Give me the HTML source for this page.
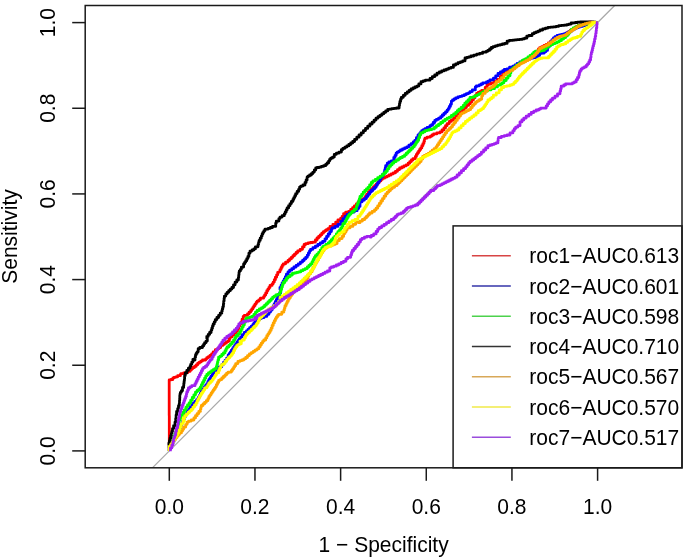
<!DOCTYPE html>
<html><head><meta charset="utf-8"><style>
html,body{margin:0;padding:0;background:#fff;}
body{width:685px;height:560px;overflow:hidden;font-family:"Liberation Sans",sans-serif;}
svg{display:block;will-change:transform;}
</style></head><body>
<svg width="685" height="560" viewBox="0 0 685 560" font-family="Liberation Sans, sans-serif" font-size="21">
<rect width="685" height="560" fill="#fff"/>
<defs><clipPath id="pc"><rect x="85.2" y="5.5" width="596.8" height="462.3"/></clipPath></defs>
<g clip-path="url(#pc)"><line x1="152.40" y1="467.80" x2="614.70" y2="5.50" stroke="#a8a8a8" stroke-width="1.2"/>
<path d="M169.3,450.9 L169.3,448.4 L169.3,448.4 L169.3,445.9 L169.3,445.9 L169.3,443.3 L169.3,443.3 L169.3,440.8 L169.3,440.8 L169.3,438.3 L169.3,438.3 L169.3,435.8 L169.3,435.8 L169.3,433.3 L169.3,433.3 L169.3,430.8 L169.3,430.8 L169.3,428.2 L169.3,428.2 L169.3,425.7 L169.3,425.7 L169.3,423.2 L169.3,423.2 L169.3,420.7 L169.3,420.7 L169.3,418.2 L169.3,418.2 L169.3,415.6 L169.2,415.6 L169.2,413.1 L169.2,413.1 L169.2,410.6 L169.2,410.6 L169.2,408.1 L169.2,408.1 L169.2,405.6 L169.2,405.6 L169.2,403.1 L169.2,403.1 L169.2,400.5 L169.2,400.5 L169.2,398.0 L169.2,398.0 L169.2,395.5 L169.2,395.5 L169.2,393.0 L169.2,393.0 L169.2,390.5 L169.2,390.5 L169.2,388.0 L169.2,388.0 L169.2,385.4 L169.2,385.4 L169.2,382.9 L169.2,382.9 L169.2,380.4 L169.2,380.4 L169.2,379.9 L171.0,379.9 L171.0,379.5 L172.9,379.5 L172.9,377.9 L173.9,377.9 L173.9,377.3 L175.8,377.3 L175.8,376.8 L177.7,376.8 L177.7,375.7 L180.4,375.7 L180.4,374.4 L180.9,374.4 L180.9,373.6 L183.6,373.6 L183.6,373.0 L185.7,373.0 L185.7,372.5 L187.9,372.5 L187.9,371.4 L190.0,371.4 L190.0,370.0 L191.4,370.0 L191.4,368.6 L192.9,368.6 L192.9,367.5 L194.5,367.5 L194.5,366.4 L196.1,366.4 L196.1,364.8 L197.7,364.8 L197.7,363.2 L199.3,363.2 L199.3,362.1 L200.9,362.1 L200.9,361.1 L202.5,361.1 L202.5,360.0 L205.7,360.0 L205.7,358.8 L206.8,358.8 L206.8,357.7 L208.4,357.7 L208.4,356.6 L210.0,356.6 L210.0,355.3 L211.6,355.3 L211.6,353.9 L213.2,353.9 L213.2,351.8 L215.4,351.8 L215.4,349.6 L217.5,349.6 L217.5,348.6 L219.1,348.6 L219.1,347.5 L220.7,347.5 L220.7,345.4 L222.9,345.4 L222.9,344.3 L224.5,344.3 L224.5,343.2 L226.1,343.2 L226.1,342.1 L227.7,342.1 L227.7,341.1 L229.3,341.1 L229.3,338.8 L230.0,338.8 L230.0,336.9 L231.9,336.9 L231.9,335.0 L233.8,335.0 L233.8,333.1 L235.7,333.1 L235.7,331.3 L237.5,331.3 L237.5,328.7 L238.8,328.7 L238.8,326.1 L240.0,326.1 L240.0,323.9 L241.1,323.9 L241.1,321.8 L242.1,321.8 L242.1,319.1 L243.2,319.1 L243.2,316.4 L244.3,316.4 L244.3,315.4 L247.5,315.4 L247.5,313.8 L249.1,313.8 L249.1,312.1 L250.7,312.1 L250.7,310.5 L251.8,310.5 L251.8,308.9 L252.9,308.9 L252.9,307.3 L253.9,307.3 L253.9,305.7 L255.0,305.7 L255.0,304.1 L256.1,304.1 L256.1,302.5 L257.1,302.5 L257.1,301.2 L258.8,301.2 L258.8,299.8 L260.4,299.8 L260.4,298.2 L263.6,298.2 L263.6,296.6 L264.6,296.6 L264.6,295.0 L265.7,295.0 L265.7,292.9 L266.8,292.9 L266.8,290.7 L267.9,290.7 L267.9,289.1 L268.9,289.1 L268.9,287.5 L270.0,287.5 L270.0,285.4 L272.1,285.4 L272.1,283.8 L273.2,283.8 L273.2,282.1 L274.3,282.1 L274.3,279.7 L275.4,279.7 L275.4,277.2 L276.6,277.2 L276.6,274.8 L277.7,274.8 L277.7,272.3 L278.9,272.3 L278.9,271.8 L280.0,271.8 L280.0,269.6 L281.1,269.6 L281.1,267.5 L282.1,267.5 L282.1,265.4 L283.2,265.4 L283.2,263.8 L285.6,263.8 L285.6,262.1 L288.0,262.1 L288.0,260.5 L289.6,260.5 L289.6,258.9 L291.3,258.9 L291.3,257.3 L292.9,257.3 L292.9,255.7 L294.5,255.7 L294.5,254.1 L296.1,254.1 L296.1,252.5 L297.7,252.5 L297.7,250.9 L300.1,250.9 L300.1,249.3 L302.5,249.3 L302.5,246.9 L304.1,246.9 L304.1,244.5 L305.7,244.5 L305.7,243.7 L308.1,243.7 L308.1,242.9 L310.5,242.9 L310.5,242.5 L312.9,242.5 L312.9,242.1 L315.4,242.1 L315.4,240.0 L317.0,240.0 L317.0,238.0 L318.6,238.0 L318.6,236.4 L320.2,236.4 L320.2,234.8 L321.8,234.8 L321.8,233.2 L323.4,233.2 L323.4,231.6 L325.0,231.6 L325.0,230.7 L326.4,230.7 L326.4,229.6 L328.0,229.6 L328.0,228.6 L329.6,228.6 L329.6,227.9 L330.0,227.9 L330.0,226.4 L332.9,226.4 L332.9,224.3 L335.7,224.3 L335.7,222.1 L337.9,222.1 L337.9,220.0 L340.7,220.0 L340.7,218.2 L342.1,218.2 L342.1,216.4 L343.6,216.4 L343.6,213.6 L345.7,213.6 L345.7,212.1 L348.6,212.1 L348.6,211.4 L350.7,211.4 L350.7,209.5 L352.6,209.5 L352.6,207.7 L354.4,207.7 L354.4,205.8 L356.3,205.8 L356.3,203.9 L358.1,203.9 L358.1,202.0 L360.0,202.0 L360.0,200.4 L362.5,200.4 L362.5,198.8 L365.0,198.8 L365.0,196.6 L366.5,196.6 L366.5,194.4 L368.1,194.4 L368.1,192.1 L369.6,192.1 L369.6,190.5 L371.3,190.5 L371.3,188.9 L372.9,188.9 L372.9,187.3 L374.5,187.3 L374.5,185.7 L376.1,185.7 L376.1,184.1 L377.7,184.1 L377.7,182.5 L379.3,182.5 L379.3,180.9 L380.9,180.9 L380.9,179.3 L382.5,179.3 L382.5,178.2 L384.6,178.2 L384.6,177.1 L386.8,177.1 L386.8,176.1 L388.9,176.1 L388.9,175.0 L391.1,175.0 L391.1,173.9 L393.2,173.9 L393.2,172.9 L395.4,172.9 L395.4,171.3 L397.5,171.3 L397.5,169.6 L399.6,169.6 L399.6,168.0 L401.8,168.0 L401.8,167.0 L403.9,167.0 L403.9,165.9 L406.1,165.9 L406.1,164.8 L408.2,164.8 L408.2,163.2 L409.8,163.2 L409.8,161.6 L411.4,161.6 L411.4,160.0 L413.0,160.0 L413.0,158.6 L415.4,158.6 L415.4,156.4 L416.4,156.4 L416.4,154.3 L417.5,154.3 L417.5,152.7 L418.6,152.7 L418.6,151.1 L419.6,151.1 L419.6,149.5 L420.7,149.5 L420.7,147.9 L421.8,147.9 L421.8,145.7 L422.9,145.7 L422.9,143.6 L423.9,143.6 L423.9,141.4 L424.5,141.4 L424.5,139.3 L425.0,139.3 L425.0,138.2 L427.1,138.2 L427.1,137.1 L430.4,137.1 L430.4,136.1 L432.0,136.1 L432.0,135.0 L433.6,135.0 L433.6,133.9 L436.8,133.9 L436.8,132.9 L440.0,132.9 L440.0,131.9 L442.0,131.9 L442.0,130.0 L443.9,130.0 L443.9,127.9 L445.5,127.9 L445.5,125.7 L447.1,125.7 L447.1,123.6 L449.3,123.6 L449.3,121.4 L451.4,121.4 L451.4,119.8 L453.6,119.8 L453.6,118.2 L455.7,118.2 L455.7,116.1 L457.9,116.1 L457.9,113.9 L460.0,113.9 L460.0,111.8 L462.1,111.8 L462.1,109.6 L464.3,109.6 L464.3,107.5 L466.4,107.5 L466.4,105.4 L468.6,105.4 L468.6,103.8 L470.2,103.8 L470.2,102.1 L471.8,102.1 L471.8,99.9 L473.4,99.9 L473.4,97.8 L475.0,97.8 L475.0,95.6 L476.6,95.6 L476.6,93.4 L478.2,93.4 L478.2,92.5 L479.9,92.5 L479.9,91.6 L481.7,91.6 L481.7,90.4 L485.2,90.4 L485.2,87.5 L486.9,87.5 L486.9,85.2 L488.1,85.2 L488.1,84.0 L491.0,84.0 L491.0,82.8 L494.5,82.8 L494.5,81.1 L497.4,81.1 L497.4,79.3 L500.4,79.3 L500.4,76.4 L502.7,76.4 L502.7,73.5 L505.0,73.5 L505.0,71.8 L507.4,71.8 L507.4,70.8 L509.9,70.8 L509.9,69.9 L512.4,69.9 L512.4,68.3 L514.6,68.3 L514.6,66.7 L516.7,66.7 L516.7,65.1 L518.9,65.1 L518.9,63.5 L521.0,63.5 L521.0,62.4 L523.1,62.4 L523.1,61.4 L525.3,61.4 L525.3,60.3 L527.4,60.3 L527.4,59.2 L529.6,59.2 L529.6,57.6 L531.7,57.6 L531.7,56.0 L533.9,56.0 L533.9,54.4 L535.5,54.4 L535.5,52.8 L537.1,52.8 L537.1,50.8 L538.4,50.8 L538.4,48.8 L539.7,48.8 L539.7,47.7 L541.8,47.7 L541.8,46.6 L544.0,46.6 L544.0,45.5 L546.1,45.5 L546.1,44.5 L548.3,44.5 L548.3,42.9 L550.4,42.9 L550.4,41.3 L552.5,41.3 L552.5,39.6 L554.7,39.6 L554.7,38.0 L556.8,38.0 L556.8,37.0 L559.0,37.0 L559.0,35.9 L561.1,35.9 L561.1,35.4 L563.3,35.4 L563.3,34.8 L565.4,34.8 L565.4,33.8 L567.0,33.8 L567.0,32.7 L568.6,32.7 L568.6,31.6 L570.2,31.6 L570.2,30.5 L571.8,30.5 L571.8,29.5 L573.4,29.5 L573.4,28.4 L575.0,28.4 L575.0,27.3 L576.6,27.3 L576.6,26.3 L578.3,26.3 L578.3,25.4 L580.4,25.4 L580.4,24.6 L582.5,24.6 L582.5,23.8 L584.7,23.8 L584.7,23.0 L586.8,23.0 L586.8,22.6 L589.0,22.6 L589.0,22.2 L591.1,22.2 L591.1,22.3 L593.3,22.3 L593.3,22.4 L595.4,22.4 L595.4,22.5 L597.6,22.5" stroke="#FF0000" stroke-width="2.8" fill="none" stroke-linejoin="round" stroke-linecap="butt"/><path d="M169.3,450.9 L169.3,448.8 L170.4,448.8 L170.4,446.6 L171.5,446.6 L171.5,444.4 L172.7,444.4 L172.7,442.3 L173.8,442.3 L173.8,440.1 L174.9,440.1 L174.9,438.0 L176.0,438.0 L176.0,436.0 L177.0,436.0 L177.0,434.0 L178.0,434.0 L178.0,432.0 L179.0,432.0 L179.0,430.0 L180.0,430.0 L180.0,427.7 L180.9,427.7 L180.9,425.4 L181.8,425.4 L181.8,423.0 L182.7,423.0 L182.7,420.7 L183.6,420.7 L183.6,418.7 L184.5,418.7 L184.5,416.8 L185.4,416.8 L185.4,414.1 L187.0,414.1 L187.0,411.4 L188.6,411.4 L188.6,409.3 L190.2,409.3 L190.2,407.1 L191.8,407.1 L191.8,405.0 L193.4,405.0 L193.4,402.9 L195.0,402.9 L195.0,401.3 L196.6,401.3 L196.6,399.6 L198.2,399.6 L198.2,397.5 L199.3,397.5 L199.3,395.4 L200.4,395.4 L200.4,393.2 L201.4,393.2 L201.4,391.1 L202.5,391.1 L202.5,388.9 L204.1,388.9 L204.1,386.8 L205.7,386.8 L205.7,385.2 L206.8,385.2 L206.8,383.6 L207.9,383.6 L207.9,381.4 L208.9,381.4 L208.9,379.3 L210.0,379.3 L210.0,377.7 L211.1,377.7 L211.1,376.1 L212.1,376.1 L212.1,374.5 L213.2,374.5 L213.2,372.9 L214.3,372.9 L214.3,370.7 L216.4,370.7 L216.4,369.1 L217.5,369.1 L217.5,367.5 L218.6,367.5 L218.6,366.8 L221.8,366.8 L221.8,364.6 L223.4,364.6 L223.4,362.5 L225.0,362.5 L225.0,360.4 L226.6,360.4 L226.6,358.2 L228.2,358.2 L228.2,355.0 L229.3,355.0 L229.3,353.4 L230.4,353.4 L230.4,351.8 L231.4,351.8 L231.4,350.2 L232.5,350.2 L232.5,348.6 L233.6,348.6 L233.6,347.0 L234.6,347.0 L234.6,345.4 L235.7,345.4 L235.7,343.8 L236.8,343.8 L236.8,342.1 L237.9,342.1 L237.9,340.4 L239.3,340.4 L239.3,338.6 L240.7,338.6 L240.7,336.8 L242.1,336.8 L242.1,334.6 L244.3,334.6 L244.3,332.5 L246.4,332.5 L246.4,330.9 L248.0,330.9 L248.0,329.3 L249.6,329.3 L249.6,327.7 L251.3,327.7 L251.3,326.1 L252.9,326.1 L252.9,324.5 L253.9,324.5 L253.9,322.9 L255.0,322.9 L255.0,321.8 L256.6,321.8 L256.6,320.7 L258.2,320.7 L258.2,319.6 L259.8,319.6 L259.8,318.6 L261.4,318.6 L261.4,317.5 L264.1,317.5 L264.1,316.4 L266.8,316.4 L266.8,314.3 L268.9,314.3 L268.9,312.1 L270.5,312.1 L270.5,310.0 L272.1,310.0 L272.1,307.9 L273.2,307.9 L273.2,305.7 L274.3,305.7 L274.3,303.6 L275.4,303.6 L275.4,301.4 L276.4,301.4 L276.4,299.3 L277.5,299.3 L277.5,297.1 L278.6,297.1 L278.6,295.0 L279.6,295.0 L279.6,292.9 L280.7,292.9 L280.7,289.5 L280.0,289.5 L280.0,287.3 L281.1,287.3 L281.1,285.2 L282.1,285.2 L282.1,283.0 L283.2,283.0 L283.2,280.9 L284.3,280.9 L284.3,278.8 L285.4,278.8 L285.4,276.6 L286.4,276.6 L286.4,274.2 L288.0,274.2 L288.0,271.8 L289.6,271.8 L289.6,270.2 L291.8,270.2 L291.8,268.6 L293.9,268.6 L293.9,267.0 L296.1,267.0 L296.1,265.4 L298.2,265.4 L298.2,263.8 L300.4,263.8 L300.4,262.1 L302.5,262.1 L302.5,260.5 L304.1,260.5 L304.1,258.9 L305.7,258.9 L305.7,257.3 L307.3,257.3 L307.3,255.2 L308.4,255.2 L308.4,253.0 L309.5,253.0 L309.5,250.9 L310.5,250.9 L310.5,249.3 L312.9,249.3 L312.9,247.7 L315.4,247.7 L315.4,246.1 L317.8,246.1 L317.8,244.5 L320.2,244.5 L320.2,242.9 L322.6,242.9 L322.6,241.3 L325.0,241.3 L325.0,238.8 L326.6,238.8 L326.6,236.4 L328.2,236.4 L328.2,234.0 L329.8,234.0 L329.8,231.6 L331.4,231.6 L331.4,229.3 L332.1,229.3 L332.1,227.9 L335.0,227.9 L335.0,226.4 L337.9,226.4 L337.9,224.3 L340.7,224.3 L340.7,221.4 L342.9,221.4 L342.9,218.6 L345.0,218.6 L345.0,216.4 L347.1,216.4 L347.1,214.3 L349.3,214.3 L349.3,212.9 L351.4,212.9 L351.4,212.1 L354.3,212.1 L354.3,210.7 L357.1,210.7 L357.1,208.6 L358.6,208.6 L358.6,206.4 L360.0,206.4 L360.0,203.4 L360.0,203.4 L360.0,201.8 L362.1,201.8 L362.1,200.2 L364.3,200.2 L364.3,198.6 L366.4,198.6 L366.4,196.4 L368.0,196.4 L368.0,194.3 L369.6,194.3 L369.6,192.1 L371.3,192.1 L371.3,190.5 L372.9,190.5 L372.9,188.9 L374.5,188.9 L374.5,187.3 L376.1,187.3 L376.1,185.3 L377.3,185.3 L377.3,183.3 L378.5,183.3 L378.5,181.3 L379.7,181.3 L379.7,179.3 L380.9,179.3 L380.9,176.9 L382.5,176.9 L382.5,174.5 L384.1,174.5 L384.1,172.3 L384.6,172.3 L384.6,170.2 L385.2,170.2 L385.2,168.0 L385.7,168.0 L385.7,165.6 L387.3,165.6 L387.3,163.2 L388.9,163.2 L388.9,162.0 L391.3,162.0 L391.3,160.8 L393.8,160.8 L393.8,157.5 L395.0,157.5 L395.0,155.4 L396.1,155.4 L396.1,153.2 L397.1,153.2 L397.1,152.1 L398.8,152.1 L398.8,151.1 L400.4,151.1 L400.4,150.0 L402.5,150.0 L402.5,148.9 L404.6,148.9 L404.6,147.9 L406.8,147.9 L406.8,146.8 L408.9,146.8 L408.9,145.2 L411.1,145.2 L411.1,143.6 L413.2,143.6 L413.2,142.0 L414.8,142.0 L414.8,140.4 L416.4,140.4 L416.4,137.7 L418.0,137.7 L418.0,135.0 L419.6,135.0 L419.6,133.4 L420.7,133.4 L420.7,131.8 L421.8,131.8 L421.8,130.7 L423.4,130.7 L423.4,129.6 L425.0,129.6 L425.0,128.6 L427.1,128.6 L427.1,127.5 L429.3,127.5 L429.3,126.8 L430.0,126.8 L430.0,125.7 L431.6,125.7 L431.6,124.6 L433.2,124.6 L433.2,122.5 L434.8,122.5 L434.8,120.4 L436.4,120.4 L436.4,119.3 L438.6,119.3 L438.6,118.2 L440.7,118.2 L440.7,116.6 L442.3,116.6 L442.3,115.0 L443.9,115.0 L443.9,113.4 L445.5,113.4 L445.5,111.8 L447.1,111.8 L447.1,110.2 L448.2,110.2 L448.2,108.6 L449.3,108.6 L449.3,106.4 L450.4,106.4 L450.4,104.3 L451.4,104.3 L451.4,101.1 L452.5,101.1 L452.5,100.0 L454.1,100.0 L454.1,98.9 L455.7,98.9 L455.7,97.9 L457.9,97.9 L457.9,96.8 L460.0,96.8 L460.0,96.3 L462.1,96.3 L462.1,95.7 L464.3,95.7 L464.3,94.6 L466.4,94.6 L466.4,93.6 L468.6,93.6 L468.6,92.8 L470.0,92.8 L470.0,91.6 L472.3,91.6 L472.3,89.9 L475.3,89.9 L475.3,86.9 L476.4,86.9 L476.4,85.8 L479.3,85.8 L479.3,84.9 L481.1,84.9 L481.1,84.0 L482.8,84.0 L482.8,82.8 L486.4,82.8 L486.4,82.0 L488.1,82.0 L488.1,81.1 L489.9,81.1 L489.9,79.9 L493.4,79.9 L493.4,78.2 L495.7,78.2 L495.7,75.8 L498.0,75.8 L498.0,73.5 L500.4,73.5 L500.4,71.8 L502.7,71.8 L502.7,70.6 L505.0,70.6 L505.0,69.8 L504.3,69.8 L504.3,69.3 L507.0,69.3 L507.0,68.8 L509.6,68.8 L509.6,67.1 L512.9,67.1 L512.9,66.1 L515.0,66.1 L515.0,65.0 L517.1,65.0 L517.1,63.4 L519.8,63.4 L519.8,61.8 L522.5,61.8 L522.5,60.7 L525.2,60.7 L525.2,59.6 L527.9,59.6 L527.9,58.8 L530.5,58.8 L530.5,58.0 L533.2,58.0 L533.2,57.5 L536.4,57.5 L536.4,56.4 L538.0,56.4 L538.0,55.4 L539.6,55.4 L539.6,53.6 L540.0,53.6 L540.0,53.3 L542.1,53.3 L542.1,53.0 L544.3,53.0 L544.3,51.7 L545.9,51.7 L545.9,50.4 L547.5,50.4 L547.5,47.1 L549.1,47.1 L549.1,44.5 L550.4,44.5 L550.4,41.8 L551.8,41.8 L551.8,39.9 L553.4,39.9 L553.4,38.0 L555.0,38.0 L555.0,36.7 L557.1,36.7 L557.1,35.4 L559.3,35.4 L559.3,34.8 L561.4,34.8 L561.4,34.3 L563.6,34.3 L563.6,33.8 L565.7,33.8 L565.7,33.2 L567.9,33.2 L567.9,32.1 L570.0,32.1 L570.0,31.1 L572.1,31.1 L572.1,29.7 L574.3,29.7 L574.3,28.4 L576.4,28.4 L576.4,27.6 L578.6,27.6 L578.6,26.8 L580.7,26.8 L580.7,26.3 L582.9,26.3 L582.9,25.7 L585.0,25.7 L585.0,24.9 L587.1,24.9 L587.1,24.1 L589.3,24.1 L589.3,23.4 L591.4,23.4 L591.4,22.7 L593.6,22.7 L593.6,22.6 L595.6,22.6 L595.6,22.5 L597.6,22.5" stroke="#0000FF" stroke-width="2.8" fill="none" stroke-linejoin="round" stroke-linecap="butt"/><path d="M169.3,450.9 L169.3,448.3 L170.2,448.3 L170.2,445.7 L171.2,445.7 L171.2,443.2 L172.1,443.2 L172.1,440.6 L173.1,440.6 L173.1,438.0 L174.0,438.0 L174.0,435.8 L174.9,435.8 L174.9,433.6 L175.9,433.6 L175.9,431.4 L176.8,431.4 L176.8,429.0 L177.4,429.0 L177.4,426.6 L178.1,426.6 L178.1,424.2 L178.7,424.2 L178.7,421.8 L179.3,421.8 L179.3,419.8 L180.2,419.8 L180.2,417.9 L181.1,417.9 L181.1,415.2 L182.7,415.2 L182.7,412.5 L184.3,412.5 L184.3,409.8 L185.9,409.8 L185.9,407.1 L187.5,407.1 L187.5,405.0 L189.1,405.0 L189.1,402.9 L190.7,402.9 L190.7,400.2 L192.3,400.2 L192.3,397.5 L193.9,397.5 L193.9,394.8 L195.5,394.8 L195.5,392.1 L197.1,392.1 L197.1,390.5 L198.8,390.5 L198.8,388.9 L200.4,388.9 L200.4,386.8 L201.4,386.8 L201.4,384.6 L202.5,384.6 L202.5,382.5 L203.6,382.5 L203.6,380.4 L204.6,380.4 L204.6,378.2 L205.7,378.2 L205.7,376.1 L206.8,376.1 L206.8,374.5 L208.4,374.5 L208.4,372.9 L210.0,372.9 L210.0,371.8 L211.6,371.8 L211.6,370.7 L213.2,370.7 L213.2,369.6 L214.8,369.6 L214.8,368.6 L216.4,368.6 L216.4,366.4 L217.0,366.4 L217.0,364.3 L217.5,364.3 L217.5,362.1 L218.0,362.1 L218.0,360.0 L218.6,360.0 L218.6,358.2 L218.6,358.2 L218.6,357.1 L220.2,357.1 L220.2,356.1 L221.8,356.1 L221.8,354.5 L223.4,354.5 L223.4,352.9 L225.0,352.9 L225.0,350.7 L226.1,350.7 L226.1,348.6 L227.1,348.6 L227.1,347.0 L228.8,347.0 L228.8,345.4 L230.4,345.4 L230.4,343.8 L232.0,343.8 L232.0,342.1 L233.6,342.1 L233.6,339.8 L234.9,339.8 L234.9,337.5 L236.3,337.5 L236.3,335.5 L238.2,335.5 L238.2,333.6 L240.0,333.6 L240.0,331.4 L241.1,331.4 L241.1,329.3 L242.1,329.3 L242.1,327.1 L243.2,327.1 L243.2,325.0 L244.3,325.0 L244.3,322.3 L245.4,322.3 L245.4,319.6 L246.4,319.6 L246.4,318.0 L249.6,318.0 L249.6,317.2 L251.8,317.2 L251.8,316.4 L253.9,316.4 L253.9,314.3 L255.5,314.3 L255.5,312.1 L257.1,312.1 L257.1,310.5 L259.3,310.5 L259.3,308.9 L261.4,308.9 L261.4,307.9 L263.0,307.9 L263.0,306.8 L264.6,306.8 L264.6,305.2 L266.3,305.2 L266.3,303.6 L267.9,303.6 L267.9,302.0 L269.5,302.0 L269.5,300.4 L271.1,300.4 L271.1,298.8 L272.7,298.8 L272.7,297.1 L274.3,297.1 L274.3,296.1 L275.9,296.1 L275.9,295.0 L277.5,295.0 L277.5,294.3 L280.0,294.3 L280.0,291.9 L280.8,291.9 L280.8,289.5 L281.6,289.5 L281.6,287.1 L282.4,287.1 L282.4,284.6 L283.2,284.6 L283.2,282.5 L284.8,282.5 L284.8,280.4 L286.4,280.4 L286.4,278.2 L288.0,278.2 L288.0,276.6 L290.2,276.6 L290.2,275.0 L292.3,275.0 L292.3,273.4 L294.5,273.4 L294.5,272.9 L296.6,272.9 L296.6,272.3 L298.8,272.3 L298.8,271.8 L300.9,271.8 L300.9,270.7 L303.0,270.7 L303.0,269.6 L305.2,269.6 L305.2,268.6 L307.3,268.6 L307.3,267.0 L308.9,267.0 L308.9,265.4 L310.5,265.4 L310.5,263.8 L312.1,263.8 L312.1,261.6 L313.2,261.6 L313.2,259.5 L314.3,259.5 L314.3,257.3 L315.4,257.3 L315.4,255.7 L317.0,255.7 L317.0,254.1 L318.6,254.1 L318.6,252.5 L320.2,252.5 L320.2,250.1 L321.8,250.1 L321.8,247.7 L323.4,247.7 L323.4,246.1 L325.8,246.1 L325.8,244.5 L328.2,244.5 L328.2,242.9 L329.8,242.9 L329.8,241.3 L331.4,241.3 L331.4,239.6 L333.0,239.6 L333.0,238.0 L334.6,238.0 L334.6,236.4 L336.3,236.4 L336.3,234.0 L337.9,234.0 L337.9,231.6 L339.5,231.6 L339.5,230.0 L340.7,230.0 L340.7,228.2 L341.8,228.2 L341.8,226.4 L342.9,226.4 L342.9,223.6 L345.0,223.6 L345.0,221.4 L346.1,221.4 L346.1,219.3 L347.1,219.3 L347.1,217.5 L348.2,217.5 L348.2,215.7 L349.3,215.7 L349.3,214.3 L350.7,214.3 L350.7,212.9 L352.1,212.9 L352.1,211.4 L354.3,211.4 L354.3,209.3 L356.4,209.3 L356.4,206.4 L357.1,206.4 L357.1,204.5 L358.0,204.5 L358.0,202.5 L358.8,202.5 L358.8,200.5 L359.4,200.5 L359.4,198.6 L360.0,198.6 L360.0,196.4 L361.6,196.4 L361.6,194.3 L363.2,194.3 L363.2,192.1 L364.8,192.1 L364.8,190.5 L366.4,190.5 L366.4,188.9 L368.0,188.9 L368.0,187.3 L369.6,187.3 L369.6,184.9 L371.3,184.9 L371.3,182.5 L372.9,182.5 L372.9,180.9 L375.3,180.9 L375.3,179.3 L377.7,179.3 L377.7,177.7 L380.1,177.7 L380.1,176.1 L382.5,176.1 L382.5,174.5 L384.1,174.5 L384.1,172.9 L385.7,172.9 L385.7,171.3 L387.3,171.3 L387.3,168.8 L388.9,168.8 L388.9,166.4 L390.5,166.4 L390.5,164.8 L392.1,164.8 L392.1,163.2 L393.8,163.2 L393.8,161.6 L396.2,161.6 L396.2,160.0 L398.6,160.0 L398.6,158.6 L400.4,158.6 L400.4,157.5 L402.5,157.5 L402.5,156.4 L404.6,156.4 L404.6,154.8 L406.3,154.8 L406.3,153.2 L407.9,153.2 L407.9,151.6 L409.5,151.6 L409.5,150.0 L411.1,150.0 L411.1,148.4 L412.7,148.4 L412.7,146.8 L414.3,146.8 L414.3,145.2 L415.4,145.2 L415.4,143.6 L416.4,143.6 L416.4,142.0 L417.5,142.0 L417.5,140.4 L418.6,140.4 L418.6,137.7 L419.6,137.7 L419.6,135.0 L420.7,135.0 L420.7,132.9 L422.9,132.9 L422.9,131.8 L425.0,131.8 L425.0,130.7 L427.1,130.7 L427.1,130.1 L429.5,130.1 L429.5,129.5 L431.9,129.5 L431.9,128.9 L434.3,128.9 L434.3,127.3 L436.4,127.3 L436.4,125.7 L438.6,125.7 L438.6,124.1 L440.7,124.1 L440.7,122.5 L442.9,122.5 L442.9,120.9 L445.0,120.9 L445.0,119.3 L447.1,119.3 L447.1,118.2 L449.3,118.2 L449.3,117.1 L451.4,117.1 L451.4,115.5 L453.6,115.5 L453.6,113.9 L455.7,113.9 L455.7,112.3 L457.3,112.3 L457.3,110.7 L458.9,110.7 L458.9,109.1 L461.1,109.1 L461.1,107.5 L463.2,107.5 L463.2,105.4 L464.8,105.4 L464.8,103.2 L466.4,103.2 L466.4,101.6 L468.0,101.6 L468.0,100.0 L469.6,100.0 L469.6,98.6 L470.0,98.6 L470.0,97.4 L473.5,97.4 L473.5,96.6 L475.3,96.6 L475.3,95.7 L477.0,95.7 L477.0,94.8 L478.8,94.8 L478.8,93.9 L480.5,93.9 L480.5,93.1 L482.3,93.1 L482.3,92.2 L484.0,92.2 L484.0,91.0 L487.5,91.0 L487.5,89.9 L491.0,89.9 L491.0,88.7 L494.5,88.7 L494.5,86.9 L497.4,86.9 L497.4,85.2 L500.4,85.2 L500.4,84.0 L502.1,84.0 L502.1,82.8 L503.9,82.8 L503.9,80.5 L506.2,80.5 L506.2,78.2 L508.0,78.2 L508.0,75.8 L510.0,75.8 L510.0,73.1 L510.9,73.1 L510.9,70.4 L511.8,70.4 L511.8,68.8 L513.9,68.8 L513.9,67.1 L516.1,67.1 L516.1,65.5 L518.2,65.5 L518.2,63.9 L520.4,63.9 L520.4,62.3 L522.0,62.3 L522.0,60.7 L523.6,60.7 L523.6,59.6 L525.7,59.6 L525.7,58.6 L527.9,58.6 L527.9,57.0 L530.0,57.0 L530.0,55.4 L532.1,55.4 L532.1,53.8 L533.8,53.8 L533.8,52.1 L535.4,52.1 L535.4,51.1 L538.6,51.1 L538.6,51.4 L540.0,51.4 L540.0,50.9 L542.1,50.9 L542.1,50.4 L544.3,50.4 L544.3,48.8 L546.4,48.8 L546.4,47.1 L548.6,47.1 L548.6,45.8 L550.7,45.8 L550.7,44.5 L552.9,44.5 L552.9,43.7 L555.0,43.7 L555.0,42.9 L557.1,42.9 L557.1,41.8 L559.3,41.8 L559.3,40.7 L561.4,40.7 L561.4,39.1 L563.6,39.1 L563.6,37.5 L565.7,37.5 L565.7,35.9 L567.3,35.9 L567.3,34.3 L568.9,34.3 L568.9,32.7 L570.0,32.7 L570.0,31.1 L571.1,31.1 L571.1,29.5 L573.2,29.5 L573.2,27.9 L575.4,27.9 L575.4,26.8 L578.0,26.8 L578.0,25.7 L580.7,25.7 L580.7,24.9 L583.4,24.9 L583.4,24.1 L586.1,24.1 L586.1,23.6 L588.8,23.6 L588.8,23.0 L591.4,23.0 L591.4,22.8 L594.5,22.8 L594.5,22.5 L597.6,22.5" stroke="#00FF00" stroke-width="2.8" fill="none" stroke-linejoin="round" stroke-linecap="butt"/><path d="M169.3,450.9 L169.3,447.9 L169.1,447.9 L169.1,445.0 L168.9,445.0 L168.9,442.9 L169.4,442.9 L169.4,440.7 L170.0,440.7 L170.0,438.2 L170.7,438.2 L170.7,435.7 L171.4,435.7 L171.4,433.5 L171.9,433.5 L171.9,431.4 L172.5,431.4 L172.5,428.6 L173.6,428.6 L173.6,425.7 L175.0,425.7 L175.0,422.1 L175.7,422.1 L175.7,418.6 L176.1,418.6 L176.1,415.0 L176.6,415.0 L176.6,411.5 L177.7,411.5 L177.7,408.6 L178.5,408.6 L178.5,405.7 L179.3,405.7 L179.3,403.1 L179.5,403.1 L179.5,400.5 L179.7,400.5 L179.7,397.9 L179.8,397.9 L179.8,395.4 L180.0,395.4 L180.0,393.9 L180.4,393.9 L180.4,392.3 L181.4,392.3 L181.4,390.7 L182.5,390.7 L182.5,387.5 L183.6,387.5 L183.6,385.4 L183.8,385.4 L183.8,383.2 L184.1,383.2 L184.1,381.1 L184.4,381.1 L184.4,378.9 L184.6,378.9 L184.6,375.7 L185.2,375.7 L185.2,373.0 L186.8,373.0 L186.8,370.4 L188.4,370.4 L188.4,368.2 L190.0,368.2 L190.0,366.4 L190.7,366.4 L190.7,364.3 L191.8,364.3 L191.8,362.1 L192.9,362.1 L192.9,359.3 L193.9,359.3 L193.9,360.0 L195.0,360.0 L195.0,357.5 L195.5,357.5 L195.5,355.0 L196.1,355.0 L196.1,353.4 L197.1,353.4 L197.1,351.8 L198.2,351.8 L198.2,348.6 L199.8,348.6 L199.8,347.5 L202.5,347.5 L202.5,345.9 L203.6,345.9 L203.6,344.3 L204.6,344.3 L204.6,342.7 L206.0,342.7 L206.0,341.1 L207.3,341.1 L207.3,338.4 L206.8,338.4 L206.8,336.4 L208.2,336.4 L208.2,334.4 L209.6,334.4 L209.6,332.5 L211.1,332.5 L211.1,330.3 L211.8,330.3 L211.8,328.2 L212.5,328.2 L212.5,326.0 L213.2,326.0 L213.2,323.9 L214.3,323.9 L214.3,321.8 L215.3,321.8 L215.3,319.6 L216.9,319.6 L216.9,317.5 L218.6,317.5 L218.6,315.3 L220.2,315.3 L220.2,313.2 L221.8,313.2 L221.8,311.0 L222.3,311.0 L222.3,308.9 L222.8,308.9 L222.8,306.8 L223.4,306.8 L223.4,303.9 L223.7,303.9 L223.7,301.1 L224.1,301.1 L224.1,298.2 L224.4,298.2 L224.4,296.1 L225.8,296.1 L225.8,293.9 L227.1,293.9 L227.1,292.3 L228.7,292.3 L228.7,290.7 L230.3,290.7 L230.3,289.1 L231.9,289.1 L231.9,287.5 L233.5,287.5 L233.5,284.8 L235.1,284.8 L235.1,282.1 L236.8,282.1 L236.8,280.0 L238.4,280.0 L238.4,277.5 L238.7,277.5 L238.7,275.0 L239.0,275.0 L239.0,272.5 L239.3,272.5 L239.3,270.9 L240.4,270.9 L240.4,269.3 L241.4,269.3 L241.4,267.1 L243.6,267.1 L243.6,263.9 L244.6,263.9 L244.6,262.3 L245.7,262.3 L245.7,260.7 L246.8,260.7 L246.8,258.6 L247.9,258.6 L247.9,256.4 L248.9,256.4 L248.9,253.2 L250.0,253.2 L250.0,251.1 L252.1,251.1 L252.1,250.0 L253.8,250.0 L253.8,248.9 L255.4,248.9 L255.4,246.8 L258.0,246.8 L258.0,244.6 L258.6,244.6 L258.6,242.5 L259.1,242.5 L259.1,240.4 L260.2,240.4 L260.2,238.2 L261.3,238.2 L261.3,236.1 L262.1,236.1 L262.1,233.9 L262.9,233.9 L262.9,232.3 L263.9,232.3 L263.9,230.7 L265.0,230.7 L265.0,229.1 L268.2,229.1 L268.2,228.3 L270.4,228.3 L270.4,227.5 L272.5,227.5 L272.5,226.4 L275.7,226.4 L275.7,223.2 L276.3,223.2 L276.3,221.1 L278.9,221.1 L278.9,218.6 L280.0,218.6 L280.0,217.1 L282.1,217.1 L282.1,215.7 L284.3,215.7 L284.3,213.8 L285.2,213.8 L285.2,211.9 L286.2,211.9 L286.2,210.0 L287.1,210.0 L287.1,207.9 L288.6,207.9 L288.6,205.7 L290.0,205.7 L290.0,203.6 L291.4,203.6 L291.4,201.4 L292.9,201.4 L292.9,199.5 L293.8,199.5 L293.8,197.6 L294.8,197.6 L294.8,195.7 L295.7,195.7 L295.7,193.6 L297.1,193.6 L297.1,191.4 L298.6,191.4 L298.6,189.3 L299.6,189.3 L299.6,187.1 L300.7,187.1 L300.7,186.1 L302.9,186.1 L302.9,185.0 L305.0,185.0 L305.0,182.5 L306.1,182.5 L306.1,180.0 L307.1,180.0 L307.1,177.1 L307.9,177.1 L307.9,176.1 L309.6,176.1 L309.6,175.0 L311.4,175.0 L311.4,173.6 L312.9,173.6 L312.9,172.1 L314.3,172.1 L314.3,170.0 L315.7,170.0 L315.7,167.9 L317.1,167.9 L317.1,167.5 L319.3,167.5 L319.3,167.1 L321.4,167.1 L321.4,166.4 L323.6,166.4 L323.6,165.7 L325.7,165.7 L325.7,164.3 L327.1,164.3 L327.1,162.9 L328.6,162.9 L328.6,161.1 L329.6,161.1 L329.6,159.3 L330.7,159.3 L330.7,158.2 L332.5,158.2 L332.5,157.1 L334.3,157.1 L334.3,154.3 L336.4,154.3 L336.4,153.2 L338.9,153.2 L338.9,152.1 L341.4,152.1 L341.4,149.6 L342.9,149.6 L342.9,148.3 L344.9,148.3 L344.9,147.1 L346.8,147.1 L346.8,145.9 L348.8,145.9 L348.8,144.5 L350.7,144.5 L350.7,143.0 L352.7,143.0 L352.7,141.5 L354.6,141.5 L354.6,139.3 L356.8,139.3 L356.8,137.2 L359.0,137.2 L359.0,135.0 L361.2,135.0 L361.2,132.8 L363.4,132.8 L363.4,130.6 L365.5,130.6 L365.5,128.4 L367.7,128.4 L367.7,126.2 L369.9,126.2 L369.9,124.0 L372.1,124.0 L372.1,122.1 L374.1,122.1 L374.1,120.1 L376.0,120.1 L376.0,118.2 L378.0,118.2 L378.0,116.7 L379.9,116.7 L379.9,115.3 L381.8,115.3 L381.8,113.8 L383.8,113.8 L383.8,112.3 L385.7,112.3 L385.7,110.9 L387.7,110.9 L387.7,109.4 L389.6,109.4 L389.6,109.1 L391.8,109.1 L391.8,108.7 L394.0,108.7 L394.0,108.3 L396.6,108.3 L396.6,108.0 L399.1,108.0 L399.1,105.8 L399.5,105.8 L399.5,103.6 L399.9,103.6 L399.9,101.4 L400.6,101.4 L400.6,99.2 L401.3,99.2 L401.3,97.3 L403.3,97.3 L403.3,95.3 L405.2,95.3 L405.2,93.4 L407.2,93.4 L407.2,91.9 L409.1,91.9 L409.1,90.4 L411.0,90.4 L411.0,89.0 L413.0,89.0 L413.0,88.0 L414.9,88.0 L414.9,87.0 L416.9,87.0 L416.9,86.1 L418.8,86.1 L418.8,83.9 L421.0,83.9 L421.0,81.7 L423.2,81.7 L423.2,80.9 L425.4,80.9 L425.4,80.2 L427.6,80.2 L427.6,80.2 L430.0,80.2 L430.0,78.5 L432.3,78.5 L432.3,76.7 L434.7,76.7 L434.7,75.0 L437.0,75.0 L437.0,73.2 L439.3,73.2 L439.3,72.0 L441.7,72.0 L441.7,70.9 L444.0,70.9 L444.0,70.0 L446.4,70.0 L446.4,69.1 L448.7,69.1 L448.7,68.2 L451.0,68.2 L451.0,67.4 L453.4,67.4 L453.4,65.0 L455.7,65.0 L455.7,63.9 L458.0,63.9 L458.0,62.7 L460.4,62.7 L460.4,61.8 L462.7,61.8 L462.7,60.9 L465.0,60.9 L465.0,58.0 L466.8,58.0 L466.8,57.4 L468.8,57.4 L468.8,56.9 L470.9,56.9 L470.9,56.0 L473.8,56.0 L473.8,55.1 L476.7,55.1 L476.7,54.2 L479.6,54.2 L479.6,53.4 L482.6,53.4 L482.6,52.2 L486.1,52.2 L486.1,51.3 L487.8,51.3 L487.8,50.4 L489.6,50.4 L489.6,49.0 L491.3,49.0 L491.3,47.5 L493.1,47.5 L493.1,46.6 L495.4,46.6 L495.4,45.8 L497.7,45.8 L497.7,45.2 L500.1,45.2 L500.1,44.6 L502.4,44.6 L502.4,44.0 L504.7,44.0 L504.7,43.4 L507.1,43.4 L507.1,41.1 L509.4,41.1 L509.4,40.4 L512.9,40.4 L512.9,40.1 L515.0,40.1 L515.0,39.8 L517.1,39.8 L517.1,39.6 L519.8,39.6 L519.8,39.3 L522.5,39.3 L522.5,38.8 L524.6,38.8 L524.6,38.2 L526.8,38.2 L526.8,36.1 L528.9,36.1 L528.9,35.5 L532.1,35.5 L532.1,34.6 L532.3,34.6 L532.3,33.7 L534.2,33.7 L534.2,32.7 L536.2,32.7 L536.2,31.9 L538.1,31.9 L538.1,31.1 L540.0,31.1 L540.0,30.0 L542.7,30.0 L542.7,28.9 L545.4,28.9 L545.4,28.1 L548.0,28.1 L548.0,27.3 L550.7,27.3 L550.7,27.1 L553.4,27.1 L553.4,26.8 L556.1,26.8 L556.1,26.3 L558.8,26.3 L558.8,25.7 L561.4,25.7 L561.4,25.4 L564.1,25.4 L564.1,25.2 L566.8,25.2 L566.8,24.6 L568.9,24.6 L568.9,24.1 L571.1,24.1 L571.1,23.0 L573.2,23.0 L573.2,22.8 L575.4,22.8 L575.4,22.5 L577.5,22.5 L577.5,22.2 L580.2,22.2 L580.2,22.0 L582.9,22.0 L582.9,22.0 L585.5,22.0 L585.5,22.0 L588.2,22.0 L588.2,21.9 L590.9,21.9 L590.9,21.9 L593.6,21.9 L593.6,22.2 L595.6,22.2 L595.6,22.5 L597.6,22.5" stroke="#000000" stroke-width="2.8" fill="none" stroke-linejoin="round" stroke-linecap="butt"/><path d="M169.3,450.9 L169.3,448.0 L170.0,448.0 L170.0,445.8 L171.3,445.8 L171.3,443.7 L172.7,443.7 L172.7,441.5 L174.0,441.5 L174.0,439.5 L175.5,439.5 L175.5,437.5 L177.0,437.5 L177.0,436.1 L178.2,436.1 L178.2,434.6 L179.5,434.6 L179.5,432.9 L181.4,432.9 L181.4,431.1 L182.5,431.1 L182.5,429.3 L183.6,429.3 L183.6,427.1 L185.7,427.1 L185.7,424.3 L187.1,424.3 L187.1,422.1 L188.6,422.1 L188.6,421.1 L191.3,421.1 L191.3,420.0 L193.9,420.0 L193.9,417.9 L195.5,417.9 L195.5,415.7 L197.1,415.7 L197.1,413.6 L198.8,413.6 L198.8,411.4 L200.4,411.4 L200.4,409.3 L200.9,409.3 L200.9,407.1 L201.4,407.1 L201.4,405.5 L203.0,405.5 L203.0,403.9 L204.6,403.9 L204.6,402.3 L206.3,402.3 L206.3,400.7 L207.9,400.7 L207.9,398.6 L208.9,398.6 L208.9,396.4 L210.0,396.4 L210.0,394.8 L211.1,394.8 L211.1,393.2 L212.1,393.2 L212.1,391.6 L213.2,391.6 L213.2,390.0 L214.3,390.0 L214.3,388.4 L215.4,388.4 L215.4,386.8 L216.4,386.8 L216.4,384.6 L217.5,384.6 L217.5,382.5 L218.6,382.5 L218.6,380.4 L220.0,380.4 L220.0,379.6 L221.8,379.6 L221.8,378.0 L223.4,378.0 L223.4,376.4 L225.0,376.4 L225.0,374.8 L226.6,374.8 L226.6,373.2 L228.2,373.2 L228.2,372.1 L231.4,372.1 L231.4,370.5 L232.5,370.5 L232.5,368.9 L233.6,368.9 L233.6,367.3 L234.6,367.3 L234.6,365.7 L235.7,365.7 L235.7,363.6 L237.9,363.6 L237.9,361.4 L240.0,361.4 L240.0,360.7 L241.9,360.7 L241.9,360.0 L243.8,360.0 L243.8,358.8 L245.7,358.8 L245.7,357.5 L247.5,357.5 L247.5,355.6 L249.4,355.6 L249.4,353.8 L251.3,353.8 L251.3,352.6 L253.2,352.6 L253.2,351.3 L255.0,351.3 L255.0,350.1 L256.9,350.1 L256.9,348.8 L258.8,348.8 L258.8,346.9 L260.1,346.9 L260.1,345.0 L261.3,345.0 L261.3,343.1 L262.6,343.1 L262.6,341.3 L263.8,341.3 L263.8,340.0 L265.7,340.0 L265.7,337.9 L266.8,337.9 L266.8,335.7 L267.9,335.7 L267.9,334.1 L268.9,334.1 L268.9,332.5 L270.0,332.5 L270.0,330.4 L271.1,330.4 L271.1,328.2 L272.1,328.2 L272.1,325.5 L273.2,325.5 L273.2,322.9 L274.3,322.9 L274.3,320.7 L275.4,320.7 L275.4,318.6 L276.4,318.6 L276.4,317.0 L277.5,317.0 L277.5,315.4 L278.6,315.4 L278.6,314.3 L281.8,314.3 L281.8,312.1 L283.9,312.1 L283.9,310.0 L284.5,310.0 L284.5,307.9 L285.0,307.9 L285.0,305.7 L286.1,305.7 L286.1,303.6 L287.1,303.6 L287.1,301.4 L288.2,301.4 L288.2,299.3 L289.3,299.3 L289.3,297.7 L290.4,297.7 L290.4,296.1 L291.4,296.1 L291.4,294.5 L292.5,294.5 L292.5,292.9 L293.6,292.9 L293.6,291.3 L295.2,291.3 L295.2,289.6 L296.8,289.6 L296.8,288.8 L298.6,288.8 L298.6,288.0 L300.5,288.0 L300.5,286.4 L300.0,286.4 L300.0,284.4 L301.5,284.4 L301.5,282.4 L303.0,282.4 L303.0,280.3 L304.6,280.3 L304.6,282.1 L306.4,282.1 L306.4,280.1 L307.2,280.1 L307.2,278.1 L308.0,278.1 L308.0,276.0 L308.9,276.0 L308.9,273.9 L310.5,273.9 L310.5,271.8 L312.1,271.8 L312.1,269.6 L313.1,269.6 L313.1,267.5 L314.2,267.5 L314.2,265.3 L315.3,265.3 L315.3,263.2 L316.4,263.2 L316.4,261.6 L317.4,261.6 L317.4,260.0 L318.5,260.0 L318.5,257.8 L319.6,257.8 L319.6,255.7 L320.6,255.7 L320.6,254.1 L321.7,254.1 L321.7,252.5 L322.8,252.5 L322.8,250.9 L323.9,250.9 L323.9,249.3 L324.9,249.3 L324.9,248.2 L326.5,248.2 L326.5,247.1 L328.1,247.1 L328.1,246.0 L331.4,246.0 L331.4,245.2 L333.3,245.2 L333.3,244.4 L335.2,244.4 L335.2,243.6 L337.1,243.6 L337.1,240.7 L339.3,240.7 L339.3,238.6 L342.1,238.6 L342.1,236.4 L343.6,236.4 L343.6,233.6 L345.0,233.6 L345.0,231.8 L346.1,231.8 L346.1,230.0 L347.1,230.0 L347.1,227.9 L350.0,227.9 L350.0,226.4 L352.9,226.4 L352.9,224.3 L355.7,224.3 L355.7,222.1 L358.6,222.1 L358.6,222.7 L360.0,222.7 L360.0,221.1 L362.4,221.1 L362.4,219.5 L364.8,219.5 L364.8,217.9 L366.4,217.9 L366.4,216.3 L368.0,216.3 L368.0,214.6 L369.6,214.6 L369.6,213.0 L372.1,213.0 L372.1,211.4 L374.5,211.4 L374.5,209.8 L376.1,209.8 L376.1,208.2 L377.7,208.2 L377.7,205.8 L379.3,205.8 L379.3,203.4 L380.9,203.4 L380.9,201.0 L382.5,201.0 L382.5,198.6 L384.1,198.6 L384.1,196.2 L385.7,196.2 L385.7,193.8 L387.3,193.8 L387.3,192.1 L388.9,192.1 L388.9,190.5 L390.5,190.5 L390.5,188.9 L392.1,188.9 L392.1,187.3 L394.6,187.3 L394.6,185.7 L397.0,185.7 L397.0,184.1 L398.6,184.1 L398.6,182.5 L400.2,182.5 L400.2,180.9 L401.8,180.9 L401.8,179.3 L403.4,179.3 L403.4,177.7 L405.0,177.7 L405.0,176.1 L406.6,176.1 L406.6,174.5 L408.2,174.5 L408.2,172.9 L409.8,172.9 L409.8,171.3 L411.4,171.3 L411.4,169.6 L413.0,169.6 L413.0,168.0 L414.6,168.0 L414.6,166.4 L416.3,166.4 L416.3,164.8 L417.9,164.8 L417.9,163.2 L419.5,163.2 L419.5,161.6 L421.1,161.6 L421.1,159.0 L422.7,159.0 L422.7,156.4 L424.3,156.4 L424.3,155.4 L426.3,155.4 L426.3,154.5 L428.2,154.5 L428.2,153.5 L430.2,153.5 L430.2,151.9 L432.2,151.9 L432.2,150.2 L434.1,150.2 L434.1,148.6 L436.1,148.6 L436.1,146.6 L437.4,146.6 L437.4,144.7 L438.7,144.7 L438.7,142.7 L440.0,142.7 L440.0,140.7 L441.3,140.7 L441.3,138.8 L442.6,138.8 L442.6,136.8 L443.9,136.8 L443.9,134.8 L445.2,134.8 L445.2,132.9 L446.6,132.9 L446.6,130.9 L447.9,130.9 L447.9,130.0 L449.3,130.0 L449.3,128.4 L450.9,128.4 L450.9,126.8 L452.5,126.8 L452.5,124.6 L454.1,124.6 L454.1,122.5 L455.7,122.5 L455.7,120.4 L457.3,120.4 L457.3,118.2 L458.9,118.2 L458.9,116.1 L460.5,116.1 L460.5,113.9 L462.1,113.9 L462.1,112.9 L464.3,112.9 L464.3,111.8 L466.4,111.8 L466.4,110.7 L468.6,110.7 L468.6,109.6 L470.7,109.6 L470.7,107.5 L472.3,107.5 L472.3,105.4 L473.9,105.4 L473.9,103.8 L475.5,103.8 L475.5,102.1 L477.1,102.1 L477.1,101.1 L478.8,101.1 L478.8,100.0 L480.4,100.0 L480.4,99.2 L481.7,99.2 L481.7,95.7 L482.8,95.7 L482.8,93.4 L485.2,93.4 L485.2,91.0 L487.5,91.0 L487.5,88.7 L489.9,88.7 L489.9,87.8 L491.6,87.8 L491.6,86.9 L493.4,86.9 L493.4,85.5 L494.8,85.5 L494.8,84.0 L496.3,84.0 L496.3,81.7 L499.2,81.7 L499.2,79.9 L501.5,79.9 L501.5,77.6 L503.9,77.6 L503.9,74.7 L506.2,74.7 L506.2,72.9 L508.5,72.9 L508.5,71.8 L510.0,71.8 L510.0,70.4 L512.9,70.4 L512.9,68.8 L515.0,68.8 L515.0,67.1 L517.1,67.1 L517.1,65.5 L519.3,65.5 L519.3,63.9 L521.4,63.9 L521.4,62.9 L523.6,62.9 L523.6,61.8 L525.7,61.8 L525.7,60.7 L527.9,60.7 L527.9,59.6 L530.0,59.6 L530.0,58.0 L532.1,58.0 L532.1,56.4 L534.3,56.4 L534.3,54.8 L535.9,54.8 L535.9,53.2 L537.5,53.2 L537.5,51.3 L538.8,51.3 L538.8,49.3 L540.0,49.3 L540.0,48.2 L542.1,48.2 L542.1,47.1 L544.3,47.1 L544.3,46.1 L546.4,46.1 L546.4,45.0 L548.6,45.0 L548.6,43.4 L550.7,43.4 L550.7,41.8 L552.9,41.8 L552.9,40.2 L555.0,40.2 L555.0,38.6 L557.1,38.6 L557.1,37.5 L559.3,37.5 L559.3,36.4 L561.4,36.4 L561.4,35.9 L563.6,35.9 L563.6,35.4 L565.7,35.4 L565.7,34.3 L567.3,34.3 L567.3,33.2 L568.9,33.2 L568.9,32.1 L570.5,32.1 L570.5,31.1 L572.1,31.1 L572.1,30.0 L573.8,30.0 L573.8,28.9 L575.4,28.9 L575.4,27.9 L577.0,27.9 L577.0,26.8 L578.6,26.8 L578.6,26.0 L580.7,26.0 L580.7,25.2 L582.9,25.2 L582.9,24.4 L585.0,24.4 L585.0,23.6 L587.1,23.6 L587.1,23.1 L589.3,23.1 L589.3,22.7 L591.4,22.7 L591.4,22.4 L593.3,22.4 L593.3,22.2 L595.2,22.2 L595.2,22.5 L597.6,22.5" stroke="#FFA500" stroke-width="2.8" fill="none" stroke-linejoin="round" stroke-linecap="butt"/><path d="M169.3,450.9 L169.3,448.6 L169.3,448.6 L169.3,446.4 L170.7,446.4 L170.7,444.3 L172.2,444.3 L172.2,442.1 L173.6,442.1 L173.6,439.6 L175.0,439.6 L175.0,437.1 L176.4,437.1 L176.4,435.0 L177.5,435.0 L177.5,432.9 L178.6,432.9 L178.6,431.1 L179.3,431.1 L179.3,429.3 L180.0,429.3 L180.0,427.5 L180.7,427.5 L180.7,425.7 L181.4,425.7 L181.4,423.6 L182.9,423.6 L182.9,421.4 L184.3,421.4 L184.3,420.0 L183.2,420.0 L183.2,417.9 L184.8,417.9 L184.8,415.7 L186.4,415.7 L186.4,414.1 L188.0,414.1 L188.0,412.5 L189.6,412.5 L189.6,410.9 L191.3,410.9 L191.3,409.3 L192.9,409.3 L192.9,407.1 L194.5,407.1 L194.5,405.0 L196.1,405.0 L196.1,402.9 L197.1,402.9 L197.1,400.7 L198.2,400.7 L198.2,398.6 L199.3,398.6 L199.3,396.4 L200.4,396.4 L200.4,394.8 L201.4,394.8 L201.4,393.2 L202.5,393.2 L202.5,391.6 L203.6,391.6 L203.6,390.0 L204.6,390.0 L204.6,387.9 L206.8,387.9 L206.8,386.3 L207.9,386.3 L207.9,384.6 L208.9,384.6 L208.9,383.0 L210.5,383.0 L210.5,381.4 L212.1,381.4 L212.1,379.8 L213.2,379.8 L213.2,378.2 L214.3,378.2 L214.3,376.6 L215.4,376.6 L215.4,375.0 L216.4,375.0 L216.4,372.9 L218.6,372.9 L218.6,370.5 L219.6,370.5 L219.6,368.1 L220.7,368.1 L220.7,365.7 L221.8,365.7 L221.8,364.6 L223.4,364.6 L223.4,363.6 L225.0,363.6 L225.0,361.4 L226.6,361.4 L226.6,359.3 L228.2,359.3 L228.2,357.7 L229.8,357.7 L229.8,356.1 L231.4,356.1 L231.4,354.5 L232.5,354.5 L232.5,352.9 L233.6,352.9 L233.6,350.7 L234.6,350.7 L234.6,348.6 L235.7,348.6 L235.7,347.0 L236.8,347.0 L236.8,345.4 L237.9,345.4 L237.9,344.6 L239.6,344.6 L239.6,343.8 L241.3,343.8 L241.3,342.1 L240.0,342.1 L240.0,341.1 L242.1,341.1 L242.1,340.0 L244.3,340.0 L244.3,337.9 L245.4,337.9 L245.4,335.7 L246.4,335.7 L246.4,334.1 L248.0,334.1 L248.0,332.5 L249.6,332.5 L249.6,330.9 L251.3,330.9 L251.3,329.3 L252.9,329.3 L252.9,327.7 L254.5,327.7 L254.5,326.1 L256.1,326.1 L256.1,324.5 L257.1,324.5 L257.1,322.9 L258.2,322.9 L258.2,320.7 L259.3,320.7 L259.3,318.6 L260.4,318.6 L260.4,317.0 L262.0,317.0 L262.0,315.4 L263.6,315.4 L263.6,313.8 L265.2,313.8 L265.2,312.1 L266.8,312.1 L266.8,310.5 L268.9,310.5 L268.9,308.9 L271.1,308.9 L271.1,307.3 L273.8,307.3 L273.8,305.7 L276.4,305.7 L276.4,303.6 L278.6,303.6 L278.6,301.4 L280.7,301.4 L280.7,299.1 L280.0,299.1 L280.0,297.5 L282.1,297.5 L282.1,295.9 L284.3,295.9 L284.3,294.3 L286.4,294.3 L286.4,292.7 L288.6,292.7 L288.6,291.1 L290.7,291.1 L290.7,289.5 L292.9,289.5 L292.9,287.9 L295.0,287.9 L295.0,286.3 L297.1,286.3 L297.1,284.6 L299.3,284.6 L299.3,283.0 L300.9,283.0 L300.9,281.4 L302.5,281.4 L302.5,279.8 L304.1,279.8 L304.1,278.2 L305.7,278.2 L305.7,276.6 L307.3,276.6 L307.3,275.0 L308.9,275.0 L308.9,273.4 L310.5,273.4 L310.5,271.0 L312.1,271.0 L312.1,268.6 L313.8,268.6 L313.8,266.4 L314.8,266.4 L314.8,264.3 L315.9,264.3 L315.9,262.1 L317.0,262.1 L317.0,259.7 L318.6,259.7 L318.6,257.3 L320.2,257.3 L320.2,255.2 L321.3,255.2 L321.3,253.0 L322.3,253.0 L322.3,250.9 L323.4,250.9 L323.4,249.3 L325.0,249.3 L325.0,247.7 L326.6,247.7 L326.6,246.9 L329.0,246.9 L329.0,246.1 L331.4,246.1 L331.4,244.5 L333.0,244.5 L333.0,242.9 L334.6,242.9 L334.6,240.4 L335.4,240.4 L335.4,238.0 L336.3,238.0 L336.3,236.4 L337.9,236.4 L337.9,234.8 L339.5,234.8 L339.5,233.2 L341.9,233.2 L341.9,231.6 L344.3,231.6 L344.3,230.0 L344.3,230.0 L344.3,228.6 L345.7,228.6 L345.7,227.1 L347.1,227.1 L347.1,224.3 L349.3,224.3 L349.3,222.1 L352.1,222.1 L352.1,220.7 L355.0,220.7 L355.0,219.3 L357.9,219.3 L357.9,216.3 L360.0,216.3 L360.0,214.3 L361.3,214.3 L361.3,212.4 L362.6,212.4 L362.6,210.5 L363.9,210.5 L363.9,208.5 L365.1,208.5 L365.1,206.6 L366.4,206.6 L366.4,204.6 L367.6,204.6 L367.6,202.6 L368.8,202.6 L368.8,200.6 L370.0,200.6 L370.0,198.6 L371.3,198.6 L371.3,197.0 L372.9,197.0 L372.9,195.4 L374.5,195.4 L374.5,193.8 L376.1,193.8 L376.1,192.7 L378.2,192.7 L378.2,191.6 L380.4,191.6 L380.4,190.5 L382.5,190.5 L382.5,189.5 L384.6,189.5 L384.6,188.4 L386.8,188.4 L386.8,187.3 L388.9,187.3 L388.9,185.7 L391.3,185.7 L391.3,184.1 L393.8,184.1 L393.8,182.5 L396.2,182.5 L396.2,180.9 L398.6,180.9 L398.6,179.3 L400.2,179.3 L400.2,177.7 L401.8,177.7 L401.8,176.1 L403.4,176.1 L403.4,174.5 L405.0,174.5 L405.0,172.9 L406.6,172.9 L406.6,171.3 L408.2,171.3 L408.2,169.6 L409.8,169.6 L409.8,168.0 L411.4,168.0 L411.4,166.4 L413.0,166.4 L413.0,164.8 L414.6,164.8 L414.6,163.2 L416.3,163.2 L416.3,161.6 L417.9,161.6 L417.9,159.4 L420.4,159.4 L420.4,158.4 L422.3,158.4 L422.3,157.4 L424.3,157.4 L424.3,156.4 L426.2,156.4 L426.2,155.4 L428.2,155.4 L428.2,154.5 L430.1,154.5 L430.1,153.5 L432.1,153.5 L432.1,152.5 L434.1,152.5 L434.1,151.5 L436.0,151.5 L436.0,150.5 L438.0,150.5 L438.0,149.6 L440.0,149.6 L440.0,148.6 L442.0,148.6 L442.0,146.6 L443.9,146.6 L443.9,144.6 L445.9,144.6 L445.9,142.6 L447.2,142.6 L447.2,140.7 L448.5,140.7 L448.5,138.7 L449.8,138.7 L449.8,136.8 L450.8,136.8 L450.8,134.8 L451.8,134.8 L451.8,132.9 L452.8,132.9 L452.8,131.9 L454.8,131.9 L454.8,131.0 L456.9,131.0 L456.9,130.0 L458.9,130.0 L458.9,127.9 L461.1,127.9 L461.1,125.7 L463.2,125.7 L463.2,123.6 L465.4,123.6 L465.4,121.4 L467.5,121.4 L467.5,119.8 L469.6,119.8 L469.6,118.2 L471.8,118.2 L471.8,116.6 L473.9,116.6 L473.9,115.0 L476.1,115.0 L476.1,112.9 L478.2,112.9 L478.2,110.7 L480.4,110.7 L480.4,109.6 L482.0,109.6 L482.0,108.6 L483.6,108.6 L483.6,107.0 L484.6,107.0 L484.6,105.4 L485.7,105.4 L485.7,103.8 L486.8,103.8 L486.8,102.1 L487.9,102.1 L487.9,100.0 L489.9,100.0 L489.9,100.0 L490.0,100.0 L490.0,98.7 L491.7,98.7 L491.7,97.4 L493.4,97.4 L493.4,95.1 L496.3,95.1 L496.3,92.8 L499.2,92.8 L499.2,89.9 L501.5,89.9 L501.5,87.5 L503.9,87.5 L503.9,86.4 L506.8,86.4 L506.8,85.8 L510.0,85.8 L510.0,85.0 L512.0,85.0 L512.0,84.3 L513.9,84.3 L513.9,82.7 L515.5,82.7 L515.5,81.1 L517.1,81.1 L517.1,79.5 L518.2,79.5 L518.2,77.9 L519.3,77.9 L519.3,76.3 L520.9,76.3 L520.9,74.6 L522.5,74.6 L522.5,73.0 L524.1,73.0 L524.1,71.4 L525.7,71.4 L525.7,69.8 L527.3,69.8 L527.3,68.2 L528.9,68.2 L528.9,66.6 L530.5,66.6 L530.5,65.0 L532.1,65.0 L532.1,63.4 L533.8,63.4 L533.8,61.8 L535.4,61.8 L535.4,60.7 L537.0,60.7 L537.0,59.6 L538.6,59.6 L538.6,58.9 L540.0,58.9 L540.0,58.4 L542.1,58.4 L542.1,57.9 L544.3,57.9 L544.3,57.9 L546.4,57.9 L546.4,57.9 L548.6,57.9 L548.6,56.3 L550.2,56.3 L550.2,54.6 L551.8,54.6 L551.8,53.0 L553.4,53.0 L553.4,51.4 L555.0,51.4 L555.0,49.3 L556.6,49.3 L556.6,47.1 L558.2,47.1 L558.2,46.1 L559.8,46.1 L559.8,45.0 L561.4,45.0 L561.4,44.5 L563.6,44.5 L563.6,43.9 L565.7,43.9 L565.7,42.3 L567.9,42.3 L567.9,40.7 L570.0,40.7 L570.0,39.6 L571.6,39.6 L571.6,38.6 L573.2,38.6 L573.2,38.0 L575.4,38.0 L575.4,37.5 L577.5,37.5 L577.5,36.4 L580.7,36.4 L580.7,34.3 L581.8,34.3 L581.8,32.1 L582.9,32.1 L582.9,30.5 L584.5,30.5 L584.5,28.9 L586.1,28.9 L586.1,27.9 L587.7,27.9 L587.7,26.8 L589.3,26.8 L589.3,25.7 L590.9,25.7 L590.9,24.6 L592.5,24.6 L592.5,22.7 L595.2,22.7 L595.2,22.5 L597.6,22.5" stroke="#FFFF00" stroke-width="2.8" fill="none" stroke-linejoin="round" stroke-linecap="butt"/><path d="M170.4,451.2 L170.4,447.9 L171.8,447.9 L171.8,445.0 L172.9,445.0 L172.9,441.4 L173.6,441.4 L173.6,438.6 L174.3,438.6 L174.3,436.8 L175.0,436.8 L175.0,435.0 L175.7,435.0 L175.7,431.4 L176.4,431.4 L176.4,427.9 L177.5,427.9 L177.5,425.8 L177.8,425.8 L177.8,423.6 L178.2,423.6 L178.2,420.0 L178.9,420.0 L178.9,416.4 L179.6,416.4 L179.6,413.6 L180.0,413.6 L180.0,411.4 L180.8,411.4 L180.8,409.3 L181.6,409.3 L181.6,407.1 L182.4,407.1 L182.4,405.0 L183.2,405.0 L183.2,402.9 L184.0,402.9 L184.0,400.7 L184.8,400.7 L184.8,398.6 L185.6,398.6 L185.6,396.4 L186.4,396.4 L186.4,393.9 L186.8,393.9 L186.8,392.0 L187.6,392.0 L187.6,390.2 L188.4,390.2 L188.4,388.0 L190.0,388.0 L190.0,386.8 L191.8,386.8 L191.8,385.7 L195.0,385.7 L195.0,383.6 L196.1,383.6 L196.1,381.4 L197.1,381.4 L197.1,379.3 L198.2,379.3 L198.2,377.1 L199.3,377.1 L199.3,375.0 L200.4,375.0 L200.4,372.9 L201.4,372.9 L201.4,370.7 L202.5,370.7 L202.5,368.6 L203.6,368.6 L203.6,367.5 L205.2,367.5 L205.2,366.4 L206.8,366.4 L206.8,364.8 L207.9,364.8 L207.9,363.2 L208.9,363.2 L208.9,361.6 L210.0,361.6 L210.0,360.0 L211.1,360.0 L211.1,359.3 L212.1,359.3 L212.1,357.1 L213.2,357.1 L213.2,355.0 L214.3,355.0 L214.3,353.4 L215.4,353.4 L215.4,351.8 L216.4,351.8 L216.4,350.2 L217.5,350.2 L217.5,348.6 L218.6,348.6 L218.6,347.0 L219.6,347.0 L219.6,345.4 L220.7,345.4 L220.7,343.8 L221.8,343.8 L221.8,342.1 L222.9,342.1 L222.9,340.2 L224.8,340.2 L224.8,338.2 L226.8,338.2 L226.8,336.3 L228.8,336.3 L228.8,335.1 L230.7,335.1 L230.7,333.8 L232.5,333.8 L232.5,331.9 L234.4,331.9 L234.4,330.0 L236.3,330.0 L236.3,328.1 L237.6,328.1 L237.6,326.3 L238.8,326.3 L238.8,323.9 L240.0,323.9 L240.0,322.9 L243.2,322.9 L243.2,321.3 L246.4,321.3 L246.4,321.0 L248.6,321.0 L248.6,320.7 L250.7,320.7 L250.7,320.2 L252.9,320.2 L252.9,319.6 L255.0,319.6 L255.0,317.5 L257.1,317.5 L257.1,315.4 L259.3,315.4 L259.3,314.3 L261.4,314.3 L261.4,313.2 L263.6,313.2 L263.6,312.1 L265.7,312.1 L265.7,311.1 L267.9,311.1 L267.9,310.0 L270.0,310.0 L270.0,308.9 L272.1,308.9 L272.1,307.9 L273.8,307.9 L273.8,306.8 L275.4,306.8 L275.4,305.2 L277.0,305.2 L277.0,303.6 L278.6,303.6 L278.6,302.3 L280.0,302.3 L280.0,300.7 L282.1,300.7 L282.1,299.1 L284.3,299.1 L284.3,297.5 L286.4,297.5 L286.4,296.2 L288.6,296.2 L288.6,294.8 L290.7,294.8 L290.7,293.5 L292.9,293.5 L292.9,292.1 L295.0,292.1 L295.0,290.8 L297.1,290.8 L297.1,289.5 L299.3,289.5 L299.3,287.9 L301.4,287.9 L301.4,286.3 L303.6,286.3 L303.6,284.6 L305.7,284.6 L305.7,283.0 L307.9,283.0 L307.9,281.4 L310.0,281.4 L310.0,279.8 L312.1,279.8 L312.1,278.8 L314.3,278.8 L314.3,277.7 L316.4,277.7 L316.4,276.6 L318.6,276.6 L318.6,275.5 L320.7,275.5 L320.7,274.5 L322.9,274.5 L322.9,273.4 L325.0,273.4 L325.0,272.2 L327.4,272.2 L327.4,271.0 L329.8,271.0 L329.8,267.8 L331.4,267.8 L331.4,267.0 L333.8,267.0 L333.8,266.2 L336.3,266.2 L336.3,265.0 L338.7,265.0 L338.7,263.8 L341.1,263.8 L341.1,262.5 L343.5,262.5 L343.5,261.3 L345.9,261.3 L345.9,258.9 L347.5,258.9 L347.5,257.3 L350.7,257.3 L350.7,254.9 L351.5,254.9 L351.5,252.5 L352.3,252.5 L352.3,250.5 L353.9,250.5 L353.9,248.5 L355.5,248.5 L355.5,246.5 L357.1,246.5 L357.1,244.5 L358.8,244.5 L358.8,242.1 L360.4,242.1 L360.4,239.6 L362.0,239.6 L362.0,238.4 L364.4,238.4 L364.4,237.2 L366.8,237.2 L366.8,236.4 L370.0,236.4 L370.0,237.1 L371.3,237.1 L371.3,235.5 L373.7,235.5 L373.7,233.9 L376.1,233.9 L376.1,231.5 L377.7,231.5 L377.7,229.1 L379.3,229.1 L379.3,227.5 L381.7,227.5 L381.7,225.9 L384.1,225.9 L384.1,224.3 L386.5,224.3 L386.5,222.7 L388.9,222.7 L388.9,221.1 L391.3,221.1 L391.3,219.5 L393.8,219.5 L393.8,217.9 L395.4,217.9 L395.4,216.3 L397.0,216.3 L397.0,214.6 L398.6,214.6 L398.6,213.8 L401.0,213.8 L401.0,213.0 L403.4,213.0 L403.4,211.4 L405.0,211.4 L405.0,209.8 L406.6,209.8 L406.6,208.2 L408.2,208.2 L408.2,207.4 L410.6,207.4 L410.6,206.6 L413.0,206.6 L413.0,205.8 L415.4,205.8 L415.4,205.0 L417.9,205.0 L417.9,203.4 L419.5,203.4 L419.5,201.8 L421.1,201.8 L421.1,200.2 L422.7,200.2 L422.7,198.6 L424.3,198.6 L424.3,197.0 L425.9,197.0 L425.9,195.4 L427.5,195.4 L427.5,193.8 L429.1,193.8 L429.1,192.1 L430.7,192.1 L430.7,190.5 L433.9,190.5 L433.9,188.9 L435.5,188.9 L435.5,187.3 L437.1,187.3 L437.1,185.7 L438.8,185.7 L438.8,185.7 L440.0,185.7 L440.0,184.8 L441.9,184.8 L441.9,183.8 L443.8,183.8 L443.8,182.9 L445.7,182.9 L445.7,181.9 L447.6,181.9 L447.6,181.0 L449.5,181.0 L449.5,180.0 L451.4,180.0 L451.4,179.0 L453.3,179.0 L453.3,178.1 L455.2,178.1 L455.2,177.1 L457.1,177.1 L457.1,175.0 L459.3,175.0 L459.3,172.9 L461.4,172.9 L461.4,170.7 L463.6,170.7 L463.6,168.6 L465.7,168.6 L465.7,166.7 L467.1,166.7 L467.1,164.8 L468.6,164.8 L468.6,162.9 L470.0,162.9 L470.0,161.4 L471.9,161.4 L471.9,160.0 L473.8,160.0 L473.8,158.6 L475.7,158.6 L475.7,157.1 L477.6,157.1 L477.6,155.7 L479.5,155.7 L479.5,154.3 L481.4,154.3 L481.4,152.1 L483.6,152.1 L483.6,150.0 L485.7,150.0 L485.7,147.9 L487.9,147.9 L487.9,145.7 L490.0,145.7 L490.0,145.0 L492.1,145.0 L492.1,144.3 L494.3,144.3 L494.3,143.6 L496.1,143.6 L496.1,142.9 L497.9,142.9 L497.9,140.7 L498.2,140.7 L498.2,138.6 L498.6,138.6 L498.6,137.5 L501.4,137.5 L501.4,136.4 L504.3,136.4 L504.3,135.7 L507.1,135.7 L507.1,135.0 L510.0,135.0 L510.0,132.9 L512.9,132.9 L512.9,130.7 L514.3,130.7 L514.3,128.6 L515.7,128.6 L515.7,127.1 L517.9,127.1 L517.9,125.7 L520.0,125.7 L520.0,123.8 L520.0,123.8 L520.0,121.9 L521.9,121.9 L521.9,120.0 L523.8,120.0 L523.8,118.1 L526.2,118.1 L526.2,116.2 L528.8,116.2 L528.8,114.4 L531.2,114.4 L531.2,112.5 L533.8,112.5 L533.8,111.2 L536.2,111.2 L536.2,110.0 L538.8,110.0 L538.8,109.1 L540.6,109.1 L540.6,108.1 L542.5,108.1 L542.5,108.1 L544.4,108.1 L544.4,108.1 L546.2,108.1 L546.2,105.9 L547.5,105.9 L547.5,103.8 L548.8,103.8 L548.8,101.9 L550.6,101.9 L550.6,100.0 L552.5,100.0 L552.5,98.1 L555.0,98.1 L555.0,96.2 L557.5,96.2 L557.5,93.8 L560.0,93.8 L560.0,91.2 L560.6,91.2 L560.6,88.8 L561.2,88.8 L561.2,86.2 L563.8,86.2 L563.8,85.0 L565.6,85.0 L565.6,83.8 L567.5,83.8 L567.5,83.8 L570.0,83.8 L570.0,83.8 L572.5,83.8 L572.5,82.8 L574.4,82.8 L574.4,81.9 L576.2,81.9 L576.2,79.7 L577.5,79.7 L577.5,77.5 L578.8,77.5 L578.8,75.0 L579.4,75.0 L579.4,72.5 L580.0,72.5 L580.0,70.6 L581.2,70.6 L581.2,68.8 L582.5,68.8 L582.5,67.8 L584.4,67.8 L584.4,66.9 L586.2,66.9 L586.2,65.3 L587.5,65.3 L587.5,63.8 L588.8,63.8 L588.8,61.9 L589.7,61.9 L589.7,60.0 L590.6,60.0 L590.6,57.3 L591.0,57.3 L591.0,54.6 L591.4,54.6 L591.4,52.5 L592.0,52.5 L592.0,50.4 L592.5,50.4 L592.5,48.2 L593.0,48.2 L593.0,46.1 L593.6,46.1 L593.6,43.9 L594.1,43.9 L594.1,41.8 L594.6,41.8 L594.6,39.1 L595.2,39.1 L595.2,36.4 L595.7,36.4 L595.7,33.6 L596.1,33.6 L596.1,30.7 L596.4,30.7 L596.4,27.9 L596.8,27.9 L596.8,24.6 L597.1,24.6 L597.1,22.5 L597.6,22.5" stroke="#A020F0" stroke-width="2.8" fill="none" stroke-linejoin="round" stroke-linecap="butt"/>
</g>
<rect x="453.1" y="225.9" width="228.90" height="241.90" fill="#fff" stroke="#1a1a1a" stroke-width="1.5"/><line x1="471.9" y1="255.80" x2="510.8" y2="255.80" stroke="#d84444" stroke-width="1.4"/><text transform="translate(529.3,263.30) scale(1,1.07)">roc1−AUC0.613</text><line x1="471.9" y1="286.05" x2="510.8" y2="286.05" stroke="#3434a8" stroke-width="1.4"/><text transform="translate(529.3,293.55) scale(1,1.07)">roc2−AUC0.601</text><line x1="471.9" y1="316.30" x2="510.8" y2="316.30" stroke="#4cd24c" stroke-width="1.4"/><text transform="translate(529.3,323.80) scale(1,1.07)">roc3−AUC0.598</text><line x1="471.9" y1="346.55" x2="510.8" y2="346.55" stroke="#333333" stroke-width="1.4"/><text transform="translate(529.3,354.05) scale(1,1.07)">roc4−AUC0.710</text><line x1="471.9" y1="376.80" x2="510.8" y2="376.80" stroke="#d8a858" stroke-width="1.4"/><text transform="translate(529.3,384.30) scale(1,1.07)">roc5−AUC0.567</text><line x1="471.9" y1="407.05" x2="510.8" y2="407.05" stroke="#f0ea48" stroke-width="1.4"/><text transform="translate(529.3,414.55) scale(1,1.07)">roc6−AUC0.570</text><line x1="471.9" y1="437.30" x2="510.8" y2="437.30" stroke="#9a4cdc" stroke-width="1.4"/><text transform="translate(529.3,444.80) scale(1,1.07)">roc7−AUC0.517</text>
<rect x="85.2" y="5.5" width="596.80" height="462.30" fill="none" stroke="#1a1a1a" stroke-width="1.5"/>
<g stroke="#1a1a1a" stroke-width="1.5"><line x1="169.30" y1="467.8" x2="169.30" y2="480.8" /><line x1="72.2" y1="450.90" x2="85.2" y2="450.90" /><line x1="254.96" y1="467.8" x2="254.96" y2="480.8" /><line x1="72.2" y1="365.24" x2="85.2" y2="365.24" /><line x1="340.62" y1="467.8" x2="340.62" y2="480.8" /><line x1="72.2" y1="279.58" x2="85.2" y2="279.58" /><line x1="426.28" y1="467.8" x2="426.28" y2="480.8" /><line x1="72.2" y1="193.92" x2="85.2" y2="193.92" /><line x1="511.94" y1="467.8" x2="511.94" y2="480.8" /><line x1="72.2" y1="108.26" x2="85.2" y2="108.26" /><line x1="597.60" y1="467.8" x2="597.60" y2="480.8" /><line x1="72.2" y1="22.60" x2="85.2" y2="22.60" /></g>
<g font-family="Liberation Sans, sans-serif" font-size="21" fill="#000">
<text transform="translate(169.30,514.1) scale(1,1.07)" text-anchor="middle">0.0</text><text transform="translate(54.6,450.90) rotate(-90) scale(1,1.07)" text-anchor="middle">0.0</text><text transform="translate(254.96,514.1) scale(1,1.07)" text-anchor="middle">0.2</text><text transform="translate(54.6,365.24) rotate(-90) scale(1,1.07)" text-anchor="middle">0.2</text><text transform="translate(340.62,514.1) scale(1,1.07)" text-anchor="middle">0.4</text><text transform="translate(54.6,279.58) rotate(-90) scale(1,1.07)" text-anchor="middle">0.4</text><text transform="translate(426.28,514.1) scale(1,1.07)" text-anchor="middle">0.6</text><text transform="translate(54.6,193.92) rotate(-90) scale(1,1.07)" text-anchor="middle">0.6</text><text transform="translate(511.94,514.1) scale(1,1.07)" text-anchor="middle">0.8</text><text transform="translate(54.6,108.26) rotate(-90) scale(1,1.07)" text-anchor="middle">0.8</text><text transform="translate(597.60,514.1) scale(1,1.07)" text-anchor="middle">1.0</text><text transform="translate(54.6,22.60) rotate(-90) scale(1,1.07)" text-anchor="middle">1.0</text>
<text transform="translate(383.60,551.8) scale(1,1.07)" text-anchor="middle">1 − Specificity</text>
<text transform="translate(16.6,236.5) rotate(-90) scale(1,1.07)" text-anchor="middle">Sensitivity</text>
</g>
</svg>
</body></html>
